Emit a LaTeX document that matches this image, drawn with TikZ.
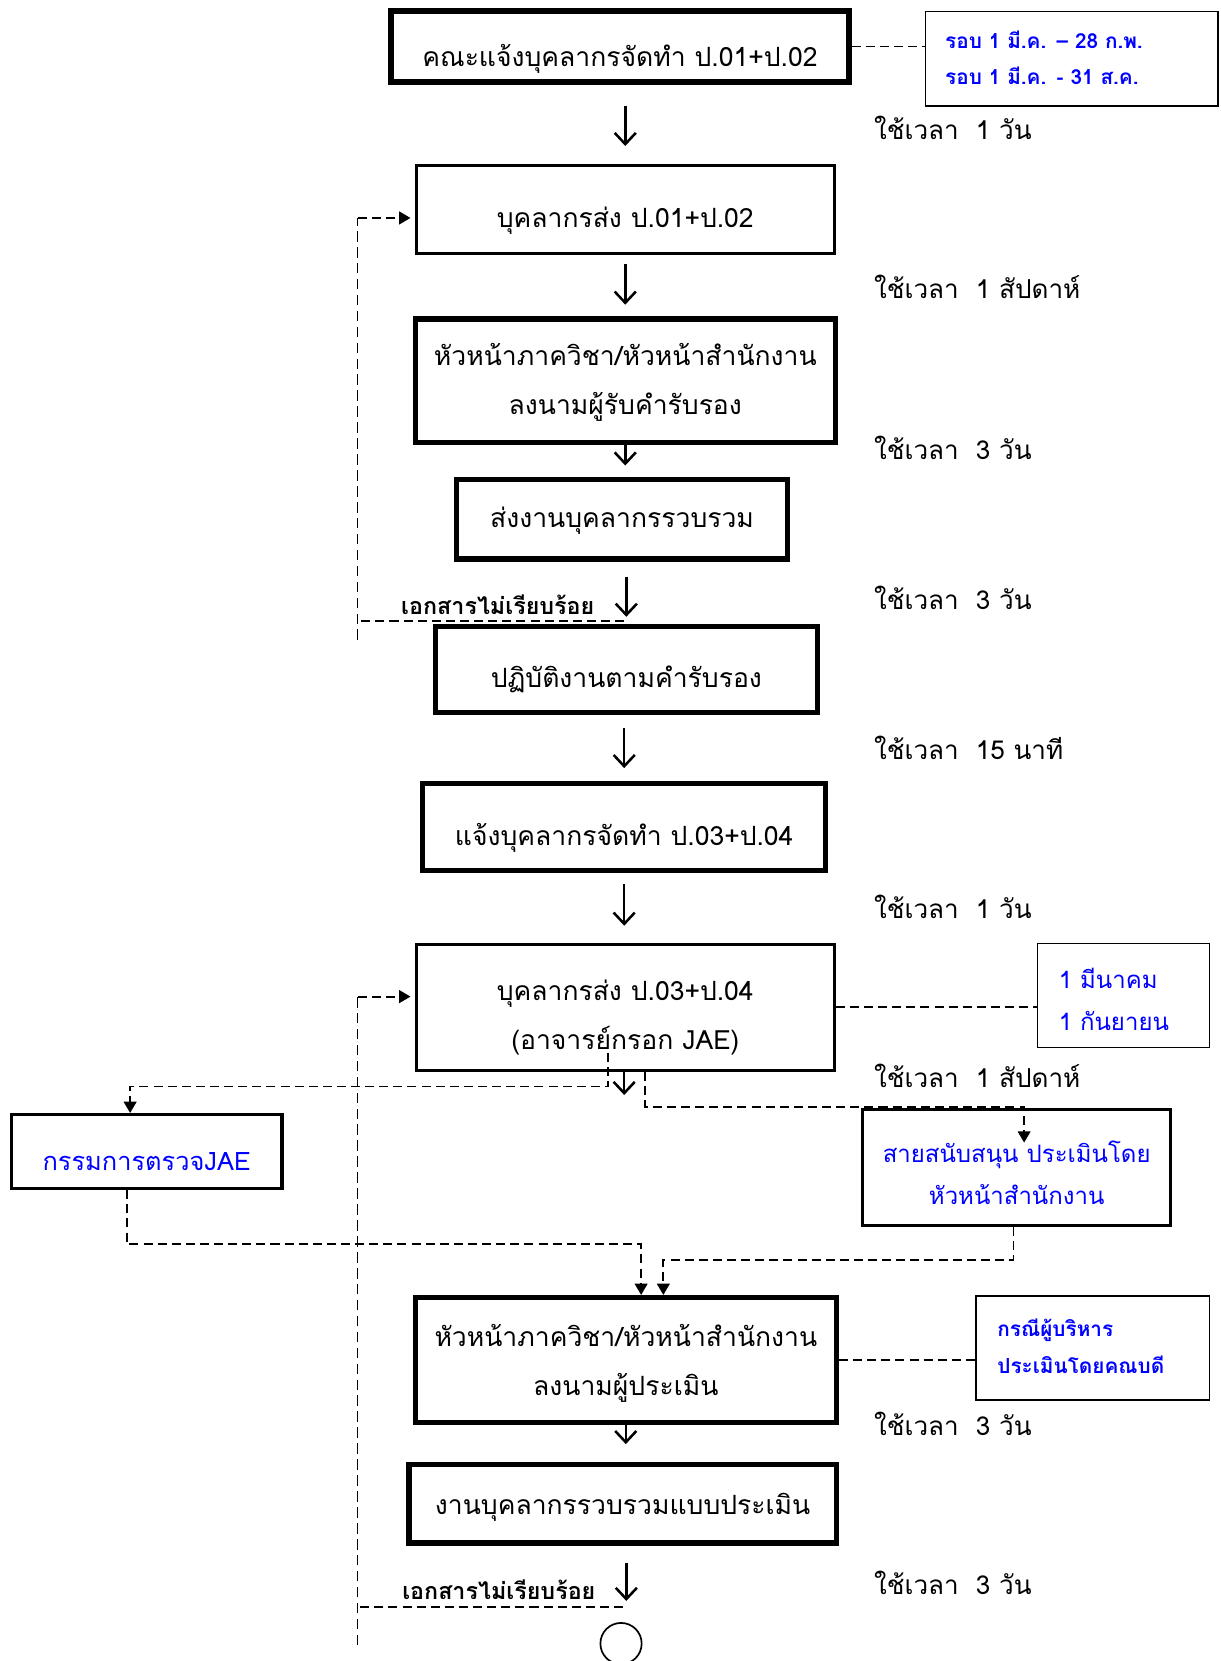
\documentclass[tikz,border=0pt]{standalone}
\usepackage{fontspec}
\setmainfont[Script=Thai]{Loma}
\usetikzlibrary{arrows.meta}
\newcommand\mainsz{\fontsize{18.8}{34.5}\selectfont}
\newcommand\timesz{\fontsize{18.5}{30}\selectfont}
\newcommand\bluesz{\fontsize{17}{30}\selectfont}
\newcommand\jaesz{\fontsize{18}{30}\selectfont}
\newcommand\badsz{\fontsize{16.5}{20}\selectfont}
% single line: baseline #1/2 below the centre
\newcommand\onel[2]{\rule{0pt}{#1}\smash{#2}}
\begin{document}
\begin{tikzpicture}[x=0.75pt,y=-0.75pt,
  box/.style={draw, line width=3.75pt, align=center, inner sep=0pt, font=\mainsz},
  boxm/.style={box, line width=2.25pt},
  bbox/.style={boxm, text=blue},
  note/.style={draw, line width=1.1pt, align=left, inner ysep=0pt, text=blue},
  arr/.style={line width=1.8pt, -{Straight Barb[length=8pt,width=15pt]}},
  dl/.style={line width=1.3pt, dash pattern=on 6.4pt off 3.6pt},
  dlv/.style={line width=0.9pt, dash pattern=on 7.5pt off 3.8pt},
  tri/.style={-{Triangle[length=8pt,width=9pt]}},
  tlab/.style={anchor=base west, font=\timesz, inner sep=0pt},
  bad/.style={anchor=base east, font=\badsz\bfseries, inner sep=0pt},
]
\useasboundingbox (0,0) rectangle (1154,1570);

% main boxes
\node[box, minimum width=324.75pt, minimum height=50.25pt] (b1) at (586,44) {\onel{28pt}{คณะแจ้งบุคลากรจัดทำ ป.01+ป.02}};
\node[boxm, minimum width=296.25pt, minimum height=62.25pt] (b2) at (591,198) {\onel{26pt}{บุคลากรส่ง ป.01+ป.02}};
\node[box, minimum width=297.75pt, minimum height=87.75pt] (b3) at (591,360) {\rule{0pt}{13pt}\smash{หัวหน้าภาควิชา/หัวหน้าสำนักงาน}\\\smash{ลงนามผู้รับคำรับรอง}};
\node[box, minimum width=234.75pt, minimum height=56.25pt] (b4) at (588,491) {\onel{11.6pt}{ส่งงานบุคลากรรวบรวม}};
\node[box, minimum width=270.75pt, minimum height=60.75pt] (b5) at (592,633) {\onel{25pt}{ปฏิบัติงานตามคำรับรอง}};
\node[box, minimum width=285.75pt, minimum height=61.5pt] (b6) at (590,781.5) {\onel{26pt}{แจ้งบุคลากรจัดทำ ป.03+ป.04}};
\node[boxm, minimum width=296.25pt, minimum height=89.25pt] (b7) at (591,952) {\rule{0pt}{25.5pt}\smash{บุคลากรส่ง ป.03+ป.04}\\\smash{(อาจารย์กรอก JAE)}};
\node[bbox, font=\jaesz, minimum width=192pt, minimum height=52.5pt] (jae) at (138.5,1088.5) {\onel{26.8pt}{กรรมการตรวจJAE}};
\node[bbox, font=\bluesz, minimum width=218.25pt, minimum height=82.5pt] (sup) at (961,1103.5) {\rule{0pt}{23.2pt}\smash{สายสนับสนุน ประเมินโดย}\\\smash{หัวหน้าสำนักงาน}};
\node[box, minimum width=298.5pt, minimum height=88.5pt] (b8) at (591.5,1285.5) {\rule{0pt}{16pt}\smash{หัวหน้าภาควิชา/หัวหน้าสำนักงาน}\\\smash{ลงนามผู้ประเมิน}};
\node[box, minimum width=303pt, minimum height=55.5pt] (b9) at (588.5,1421.5) {\onel{14.4pt}{งานบุคลากรรวบรวมแบบประเมิน}};
\node[draw, circle, line width=1.2pt, minimum size=29.25pt, inner sep=0pt] (circ) at (587,1553.5) {};

% notes
\node[note, font=\fontsize{14.7}{25.3}\selectfont\bfseries, minimum height=67.1pt, text width=179.4pt, inner xsep=14pt] (n1) at (1013,55.5) {\rule{0pt}{11.5pt}\smash{รอบ 1 มี.ค. – 28 ก.พ.}\\\smash{รอบ 1 มี.ค. - 31 ส.ค.}};
\node[note, font=\bluesz, minimum height=73.9pt, text width=91.9pt, inner xsep=15pt] (n2) at (1062,941) {\rule{0pt}{19.5pt}\smash{1 มีนาคม}\\\smash{1 กันยายน}};
\node[note, font=\fontsize{14.7}{26}\selectfont\bfseries, minimum height=73.9pt, text width=135.4pt, inner xsep=15pt] (n3) at (1033,1274) {\rule{0pt}{9.7pt}\smash{กรณีผู้บริหาร}\\\smash{ประเมินโดยคณบดี}};

% time labels
\node[tlab] (t1) at (826,132) {ใช้เวลา\hspace{12pt}1 วัน};
\node[tlab] (t2) at (826,282) {ใช้เวลา\hspace{12pt}1 สัปดาห์};
\node[tlab] (t3) at (826,434) {ใช้เวลา\hspace{12pt}3 วัน};
\node[tlab] (t4) at (826,576) {ใช้เวลา\hspace{12pt}3 วัน};
\node[tlab] (t5) at (826,718) {ใช้เวลา\hspace{12pt}15 นาที};
\node[tlab] (t6) at (826,868) {ใช้เวลา\hspace{12pt}1 วัน};
\node[tlab] (t7) at (826,1028) {ใช้เวลา\hspace{12pt}1 สัปดาห์};
\node[tlab] (t8) at (826,1357) {ใช้เวลา\hspace{12pt}3 วัน};
\node[tlab] (t9) at (826,1507) {ใช้เวลา\hspace{12pt}3 วัน};

\node[bad] (e1) at (562,581) {เอกสารไม่เรียบร้อย};
\node[bad] (e2) at (563,1512) {เอกสารไม่เรียบร้อย};

% solid arrows
\draw[arr, shorten <=15pt, shorten >=12.75pt] (b2.north |- b1.south) -- (b2.north);
\draw[arr, shorten <=6.75pt, shorten >=8.25pt] (b3.north |- b2.south) -- (b3.north);
\draw[arr, shorten >=8.25pt] (b3.south) -- (b3.south |- b4.north);
\draw[arr, shorten <=10.5pt, shorten >=5.25pt] (b5.north |- b4.south) -- (b5.north);
\draw[arr, shorten <=9pt, shorten >=9pt] (b6.north |- b5.south) -- (b6.north);
\draw[arr, shorten <=8.25pt, shorten >=12pt] (b6.south) -- (b6.south |- b7.north);
\coordinate (ab7) at (590,1035);
\draw[arr] (ab7 |- b7.south) -- (ab7);
\draw[arr, shorten >=12.75pt] (b8.south) -- (b8.south |- b9.north);
\coordinate (ac) at (592,1500);
\draw[arr, shorten <=12pt, shorten >=15pt] (ac |- b9.south) -- (ac |- circ.north);

% note links
\draw[dl] (b1.east) -- (b1.east -| n1.west);
\draw[dl] (b7.east) -- (b7.east -| n2.west);
\draw[dl] (b8.east) -- (b8.east -| n3.west);

% loop 1
\coordinate (r1s) at (590,587);
\coordinate (r1c) at (338,587);
\coordinate (r1b) at (338,605);
\coordinate (r1t) at (338,206);
\draw[dl] (r1s) -- (r1c);
\draw[dlv] (r1b) -- (r1t);
\draw[dl, tri, shorten >=3pt] (r1t) -- (r1t -| b2.west);

% loop 2
\coordinate (r2s) at (589,1519);
\coordinate (r2c) at (338,1519);
\coordinate (r2b) at (338,1555);
\coordinate (r2t) at (338,942);
\draw[dl] (r2s) -- (r2c);
\draw[dlv] (r2b) -- (r2t);
\draw[dl, tri, shorten >=3pt] (r2t) -- (r2t -| b7.west);

% JAE branch
\coordinate (j0) at (575,995);
\coordinate (j1) at (575,1027);
\coordinate (j2) at (123,1027);
\draw[dl, tri] (j0) -- (j1) -- (j2) -- (j2 |- jae.north);

% support branch
\coordinate (s0) at (610,1013);
\coordinate (s1) at (610,1046);
\coordinate (s2) at (968,1046);
\coordinate (s3) at (968,1080);
\draw[dl, tri] (s0) -- (s1) -- (s2) -- (s3);

% JAE -> b8
\coordinate (k1) at (120,1176);
\coordinate (k2) at (606,1176);
\draw[dl, tri] (k1 |- jae.south) -- (k1) -- (k2) -- (k2 |- b8.north);

% support -> b8
\coordinate (m1) at (958,1191);
\coordinate (m2) at (627,1191);
\draw[dl, tri] (m1 |- sup.south) -- (m1) -- (m2) -- (m2 |- b8.north);
\end{tikzpicture}
\end{document}
